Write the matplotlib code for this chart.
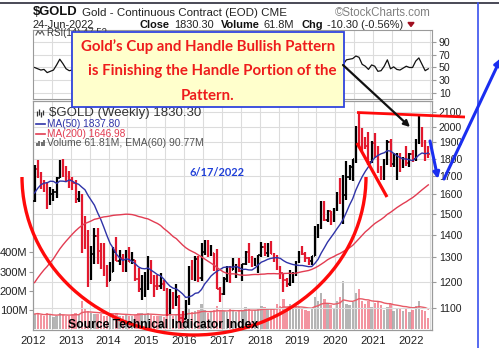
import numpy as np
import pandas as pd
import matplotlib
matplotlib.use("Agg")
import matplotlib.pyplot as plt
from matplotlib.patches import Rectangle, Arc
from matplotlib.ticker import FixedLocator, NullLocator, NullFormatter

# ---------------- data (monthly, gold continuous contract) ----------------
# closes used only to warm up the moving averages (2008-2011)
close_hist = [923, 972, 916, 864, 886, 930, 913, 833, 884, 718, 814, 884,
              928, 942, 916, 891, 979, 927, 955, 955, 1008, 1040, 1182, 1096,
              1081, 1118, 1115, 1180, 1213, 1244, 1181, 1248, 1309, 1359, 1386, 1421,
              1333, 1411, 1439, 1556, 1536, 1502, 1628, 1825, 1620, 1725, 1746, 1566]

close = [1740, 1711, 1669, 1664, 1561, 1604, 1614, 1692, 1776, 1719, 1712, 1676,
         1663, 1578, 1597, 1476, 1393, 1234, 1313, 1396, 1327, 1323, 1250, 1202,
         1240, 1322, 1284, 1296, 1250, 1322, 1282, 1287, 1210, 1171, 1175, 1184,
         1279, 1213, 1183, 1182, 1190, 1172, 1095, 1132, 1115, 1142, 1065, 1061,
         1118, 1238, 1235, 1293, 1216, 1322, 1350, 1311, 1317, 1275, 1173, 1152,
         1212, 1253, 1249, 1268, 1268, 1242, 1270, 1322, 1284, 1271, 1275, 1309,
         1345, 1318, 1327, 1316, 1298, 1253, 1233, 1206, 1192, 1215, 1226, 1282,
         1325, 1316, 1298, 1285, 1306, 1413, 1437, 1529, 1472, 1514, 1465, 1523,
         1587, 1566, 1597, 1694, 1751, 1800, 1986, 1978, 1895, 1879, 1780, 1895,
         1850, 1734, 1716, 1768, 1905, 1771, 1817, 1818, 1757, 1783, 1774, 1829,
         1796, 1900, 1954, 1911, 1848, 1830]

high = [1764, 1792, 1721, 1680, 1667, 1640, 1630, 1693, 1790, 1798, 1755, 1727,
        1697, 1680, 1616, 1604, 1488, 1424, 1348, 1434, 1434, 1361, 1361, 1267,
        1280, 1346, 1392, 1331, 1315, 1332, 1345, 1325, 1290, 1256, 1225, 1239,
        1308, 1287, 1225, 1225, 1233, 1205, 1175, 1170, 1158, 1191, 1147, 1088,
        1128, 1263, 1287, 1306, 1305, 1362, 1377, 1375, 1352, 1318, 1338, 1180,
        1220, 1264, 1264, 1297, 1272, 1296, 1273, 1326, 1362, 1306, 1299, 1310,
        1366, 1362, 1365, 1370, 1318, 1310, 1265, 1235, 1215, 1245, 1238, 1286,
        1326, 1349, 1325, 1302, 1306, 1442, 1453, 1566, 1566, 1519, 1517, 1528,
        1611, 1691, 1704, 1788, 1765, 1800, 2005, 2089, 1992, 1933, 1966, 1907,
        1959, 1876, 1760, 1798, 1916, 1919, 1834, 1834, 1836, 1813, 1877, 1833,
        1853, 1919, 2078, 2002, 1912, 1880]

low = [1563, 1690, 1627, 1614, 1527, 1547, 1565, 1583, 1690, 1693, 1671, 1636,
       1625, 1555, 1562, 1321, 1338, 1180, 1208, 1271, 1272, 1251, 1221, 1180,
       1202, 1238, 1283, 1268, 1240, 1240, 1280, 1270, 1204, 1160, 1131, 1142,
       1167, 1190, 1142, 1167, 1170, 1162, 1072, 1080, 1098, 1107, 1052, 1046,
       1062, 1110, 1208, 1204, 1199, 1202, 1310, 1301, 1305, 1241, 1171, 1123,
       1147, 1200, 1195, 1245, 1214, 1237, 1204, 1266, 1276, 1260, 1264, 1236,
       1303, 1307, 1303, 1313, 1281, 1246, 1211, 1160, 1180, 1182, 1196, 1222,
       1276, 1311, 1281, 1266, 1267, 1306, 1385, 1430, 1465, 1460, 1445, 1460,
       1517, 1548, 1451, 1573, 1680, 1670, 1776, 1863, 1849, 1860, 1764, 1775,
       1802, 1717, 1677, 1679, 1766, 1750, 1751, 1677, 1721, 1746, 1758, 1753,
       1780, 1788, 1890, 1872, 1785, 1807]

first_open = 1566

# average weekly volume, millions of contracts
volume = [80, 85, 75, 70, 85, 75, 65, 70, 85, 75, 70, 72,
          78, 85, 75, 150, 110, 95, 85, 80, 80, 78, 70, 68,
          80, 78, 85, 72, 70, 75, 70, 68, 75, 85, 88, 78,
          88, 76, 72, 70, 68, 66, 85, 80, 72, 80, 78, 80,
          85, 110, 90, 95, 100, 130, 100, 85, 95, 100, 120, 95,
          95, 90, 110, 100, 90, 100, 95, 115, 110, 95, 100, 105,
          120, 115, 110, 105, 100, 130, 120, 160, 115, 130, 110, 120,
          115, 110, 100, 95, 105, 170, 150, 190, 160, 135, 125, 110,
          150, 170, 250, 130, 125, 140, 190, 210, 150, 130, 145, 115,
          135, 140, 125, 100, 115, 130, 95, 110, 105, 95, 110, 92,
          100, 120, 150, 100, 95, 62]

rsi = [50, 48, 46, 47, 42, 44, 46, 54, 63, 56, 48, 45,
       46, 38, 40, 30, 33, 28, 42, 52, 45, 45, 38, 35,
       45, 58, 55, 50, 44, 55, 52, 50, 38, 35, 40, 43,
       58, 45, 40, 42, 44, 40, 30, 42, 44, 50, 35, 36,
       52, 65, 62, 64, 50, 62, 65, 55, 55, 45, 32, 35,
       50, 58, 55, 60, 55, 50, 52, 62, 58, 50, 50, 55,
       62, 55, 55, 52, 46, 38, 36, 30, 34, 45, 48, 60,
       66, 60, 52, 45, 55, 72, 70, 78, 62, 62, 55, 62,
       70, 62, 55, 62, 63, 64, 68, 66, 55, 52, 47, 54,
       52, 44, 45, 52, 62, 48, 51, 47, 46, 49, 52, 50,
       50, 60, 65, 55, 45, 48]

years = list(range(2012, 2023))
price_ticks = [1100, 1200, 1300, 1400, 1500, 1600, 1700, 1800, 1900, 2000, 2100]
volume_ticks = [100, 200, 300, 400]
rsi_ticks = [10, 30, 50, 70, 90]

# ---------------- derived series ----------------
n = len(close)
t = 2012 + (np.arange(n) + 0.5) / 12.0
all_close = pd.Series(close_hist + close, dtype=float)
ma50 = all_close.rolling(12).mean().to_numpy()[len(close_hist):]
ma200 = all_close.rolling(46).mean().to_numpy()[len(close_hist):]
opens = np.array([first_open] + close[:-1], dtype=float)
closes = np.array(close, dtype=float)
up = closes >= opens
vol_ema = pd.Series(volume, dtype=float).ewm(span=14).mean().to_numpy()

# ---------------- figure ----------------
W, H = 499, 348
fig = plt.figure(figsize=(W / 100, H / 100), dpi=100)
fig.patch.set_facecolor("white")
FONT = "Liberation Sans"
plt.rcParams["font.family"] = [FONT, "DejaVu Sans"]


def frame(l, t_, r, b):
    return [l / W, 1 - b / H, (r - l) / W, (b - t_) / H]


XMIN, XMAX = 2012.0, 2022.556
GRID = "#dcdcdc"
SPINE = "#9a9a9a"

# RSI panel
ax_rsi = fig.add_axes(frame(33, 30, 432, 99))
ax_rsi.set_xlim(XMIN, XMAX)
ax_rsi.set_ylim(0.6, 108.8)
for yv in rsi_ticks:
    ax_rsi.axhline(yv, color=GRID, lw=0.8, zorder=0)
for yr in np.arange(2012.5, 2023, 0.5):
    ax_rsi.axvline(yr, color=GRID, lw=0.8, zorder=0)
ax_rsi.plot(t, rsi, color="#111111", lw=0.9, zorder=2)
ax_rsi.yaxis.tick_right()
ax_rsi.yaxis.set_major_locator(FixedLocator(rsi_ticks))
ax_rsi.tick_params(axis="y", length=3, pad=2, labelsize=7.6, colors="#222222")
ax_rsi.tick_params(axis="y", color=SPINE)
ax_rsi.xaxis.set_major_locator(NullLocator())
for s in ax_rsi.spines.values():
    s.set_color(SPINE)
    s.set_linewidth(0.8)

# Price + volume panel
ax_vol = fig.add_axes(frame(33, 101, 432, 330))
ax_vol.set_xlim(XMIN, XMAX)
ax_vol.set_ylim(-2.6, 1183)
for yr in np.arange(2012.5, 2023, 0.5):
    ax_vol.axvline(yr, color=GRID, lw=0.8, zorder=0)
vcol = np.where(up, "#9c9c9c", "#f07080")
ax_vol.bar(t, volume, width=0.062, color=vcol, alpha=0.75, lw=0, zorder=1)
ax_vol.plot(t, vol_ema, color="#e85a66", lw=1.0, zorder=2)
ax_vol.yaxis.set_major_locator(FixedLocator(volume_ticks))
ax_vol.set_yticklabels([f"{v}M" for v in volume_ticks])
ax_vol.tick_params(axis="y", length=3, pad=1, labelsize=8, colors="#222222")
ax_vol.tick_params(axis="y", color=SPINE)
ax_vol.xaxis.set_major_locator(FixedLocator(years))
ax_vol.set_xticklabels([str(y) for y in years])
ax_vol.tick_params(axis="x", length=0, pad=4, labelsize=8.2, colors="#222222")
for s in ax_vol.spines.values():
    s.set_color(SPINE)
    s.set_linewidth(0.8)

ax_px = ax_vol.twinx()
ax_px.set_yscale("log")
ax_px.set_xlim(XMIN, XMAX)
ax_px.set_ylim(1023, 2178)
for pv in price_ticks:
    ax_px.axhline(pv, color=GRID, lw=0.8, zorder=0)
dt = 0.034
for mask, col in ((~up, "#e2182e"), (up, "#000000")):
    ax_px.vlines(t[mask], np.array(low)[mask], np.array(high)[mask], colors=col, lw=1.6, zorder=3)
    ax_px.hlines(opens[mask], t[mask] - dt, t[mask], colors=col, lw=1.2, zorder=3)
    ax_px.hlines(closes[mask], t[mask], t[mask] + dt, colors=col, lw=1.2, zorder=3)
ax_px.plot(t, ma50, color="#2f33a8", lw=1.0, zorder=4)
ax_px.plot(t, ma200, color="#e23c52", lw=1.0, zorder=4)
ax_px.yaxis.set_major_locator(FixedLocator(price_ticks))
ax_px.yaxis.set_minor_locator(NullLocator())
ax_px.yaxis.set_minor_formatter(NullFormatter())
ax_px.set_yticklabels([str(p) for p in price_ticks])
ax_px.tick_params(axis="y", length=3, pad=2, labelsize=7.6, colors="#222222")
ax_px.tick_params(axis="y", color=SPINE)
for s in ax_px.spines.values():
    s.set_color(SPINE)
    s.set_linewidth(0.8)

# ---------------- overlay in pixel coordinates ----------------
ov = fig.add_axes([0, 0, 1, 1], zorder=10)
ov.set_xlim(0, W)
ov.set_ylim(H, 0)
ov.axis("off")
ov.patch.set_alpha(0)

renderer = fig.canvas.get_renderer()


def fit(x, y, s, width, ha="left", va="center", size=8, **kw):
    txt = ov.text(x, y, s, ha=ha, va=va, fontsize=size, **kw)
    w = txt.get_window_extent(renderer).width
    txt.set_fontsize(size * width / w)
    return txt


# header
fit(33, 12, "$GOLD", 45, weight="bold", color="#111111")
fit(82, 12.5, "Gold - Continuous Contract (EOD) CME", 205, color="#222222")
fit(335, 12.5, "\u00a9StockCharts.com", 97, color="#808080")
fs_norm = fit(33, 24.5, "24-Jun-2022", 62, color="#222222").get_fontsize()

# quote line laid out piece by piece
pieces = [("Close", True), ("1830.30", False), ("Volume", True), ("61.8M", False),
          ("Chg", True), ("-10.30 (-0.56%)", False)]
x = 140.0
for s, bold in pieces:
    txt = ov.text(x, 24.5, s, ha="left", va="center", fontsize=fs_norm,
                  weight="bold" if bold else "normal",
                  color="#111111" if bold else "#222222")
    x += txt.get_window_extent(renderer).width + (4 if bold else 7)
ov.fill([x - 2, x + 4, x + 1], [22.5, 22.5, 26.5], color="#a01020")

# RSI label
ov.plot([36, 38, 40, 42, 44], [35, 31, 34, 31, 35], color="#555555", lw=0.8)
fit(47, 33.5, "RSI(14) 47.52", 60, color="#333333")

# price panel legend
ov.vlines([37, 39, 41, 43], [111, 109, 112, 110], [116, 115, 117, 115], color="#333333", lw=0.9)
fit(49, 113, "$GOLD (Weekly) 1830.30", 152, color="#333333")
ov.plot([36, 45], [124, 124], color="#2f33a8", lw=1.2)
fit(47, 124, "MA(50) 1837.80", 73, color="#2f33a8")
ov.plot([36, 45], [134, 134], color="#e23c52", lw=1.2)
fit(47, 134, "MA(200) 1646.98", 78, color="#e23c52")
ov.vlines([37, 39.5, 42, 44.5], [143, 141, 142, 140], [146, 146, 146, 146], color="#666666", lw=1.3)
fit(47, 143, "Volume 61.81M, EMA(60) 90.77M", 156, color="#555555")

# callout box
ov.add_patch(Rectangle((72.5, 31.5), 271.5, 75.5, facecolor="#ffffcc",
                       edgecolor="#3044dd", lw=1.3, zorder=5))
head = fit(208, 46.5, "Gold\u2019s Cup and Handle Bullish Pattern", 257, ha="center",
           family=["Lato", "DejaVu Sans"], weight="bold", color="#ee1c1c", zorder=6)
fs = head.get_fontsize()
ov.text(212, 71, "is Finishing the Handle Portion of the", ha="center", va="center",
        fontsize=fs, family=["Lato", "DejaVu Sans"], weight="bold", color="#ee1c1c", zorder=6)
ov.text(207.5, 95.5, "Pattern.", ha="center", va="center",
        fontsize=fs, family=["Lato", "DejaVu Sans"], weight="bold", color="#ee1c1c", zorder=6)

fit(190, 172, "6/17/2022", 55, family=["Lato", "DejaVu Sans"], weight="bold", color="#1f3fd8")
fit(68, 325, "Source Technical Indicator Index", 190, weight="bold", color="#000000", zorder=7)

# cup, handle and resistance lines
ov.add_patch(Arc((194, 177), 344, 316, theta1=0, theta2=180, color="#ff0a0a", lw=2.4, zorder=6))
ov.plot([357, 387], [143, 197], color="#ff0a0a", lw=2.3, solid_capstyle="butt", zorder=6)
ov.plot([357, 465], [112.5, 117], color="#ff0a0a", lw=2.0, solid_capstyle="butt", zorder=6)

# arrows
ov.annotate("", xy=(410, 127), xytext=(343, 65), zorder=8, annotation_clip=False,
            arrowprops=dict(arrowstyle="-|>", color="#111111", lw=1.6, mutation_scale=9, shrinkA=0, shrinkB=0))
ov.annotate("", xy=(438, 179), xytext=(430, 141), zorder=8, annotation_clip=False,
            arrowprops=dict(arrowstyle="-|>", color="#1a2ef0", lw=2.2, mutation_scale=9, shrinkA=0, shrinkB=0))
ov.annotate("", xy=(501, 58), xytext=(444, 179), zorder=8, annotation_clip=False,
            arrowprops=dict(arrowstyle="-|>", color="#1a2ef0", lw=2.2, mutation_scale=10, shrinkA=0, shrinkB=0))

# outer frame
ov.plot([0, W], [2.5, 2.5], color="#2a2a3a", lw=1.2)
ov.plot([478, 478], [2.5, H], color="#3a50ee", lw=1.2)

fig.savefig("out.png", dpi=100, facecolor="white")
